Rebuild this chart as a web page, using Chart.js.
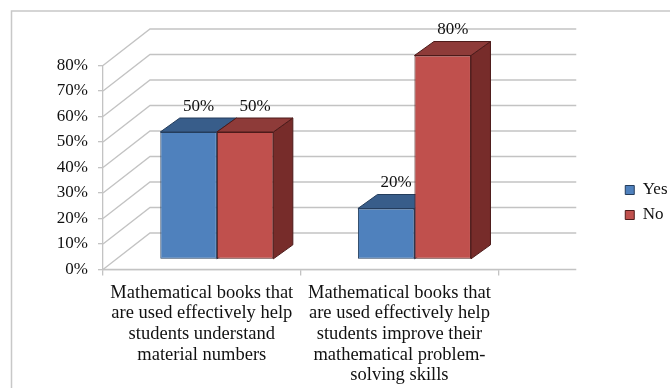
<!DOCTYPE html>
<html>
<head>
<meta charset="utf-8">
<script src="https://cdn.jsdelivr.net/npm/chart.js@4.4.1/dist/chart.umd.min.js"></script>
<style>
  html, body { margin: 0; padding: 0; background: #fff; }
  #grafica { display: block; }
</style>
</head>
<body>
<canvas id="grafica" width="670" height="388"></canvas>
<script>
// Datos de la encuesta
var categorias = [
    ["Mathematical books that", "are used effectively help", "students understand", "material numbers"],
    ["Mathematical books that", "are used effectively help", "students improve their", "mathematical problem-", "solving skills"]
];
var series = ["Yes", "No"];
var valoresSi = [50, 20];
var valoresNo = [50, 80];
var ticksY = [0, 10, 20, 30, 40, 50, 60, 70, 80];

// Efecto 3D: pared del fondo, plano de las barras y grosor de cada barra
var PARED = { dx: 47, dy: -36.5 };
var PLANO = { dx: 15, dy: -10 };
var GROSOR = { dx: 19.5, dy: -14 };
var GRIS = "#c3c3c3";
var FUENTE = "'Liberation Serif', 'Times New Roman', serif";

var colores = [
    { frente: "#4f81bd", arriba: "#385d8a", lado: "#2f4f76", borde: "#243d5c" },
    { frente: "#c0504d", arriba: "#8e3b39", lado: "#772c2a", borde: "#4d1b1a" }
];

function poligono(ctx, puntos, relleno, borde) {
    ctx.beginPath();
    ctx.moveTo(puntos[0][0], puntos[0][1]);
    for (var i = 1; i < puntos.length; i++) {
        ctx.lineTo(puntos[i][0], puntos[i][1]);
    }
    ctx.closePath();
    ctx.fillStyle = relleno;
    ctx.fill();
    ctx.lineWidth = 1;
    ctx.strokeStyle = borde;
    ctx.stroke();
}

var fondo3d = {
    id: "fondo3d",
    beforeDraw: function(chart) {
        var ctx = chart.ctx, area = chart.chartArea, escalaY = chart.scales.y;
        var fin = area.right + 78;
        ctx.save();
        ctx.fillStyle = "#fff";
        ctx.fillRect(0, 0, chart.width, chart.height);

        // marco exterior
        ctx.strokeStyle = "#c8c8c8";
        ctx.lineWidth = 1.5;
        ctx.strokeRect(11.5, 11, chart.width + 20, chart.height + 20);

        // lineas de la pared del fondo
        ctx.strokeStyle = GRIS;
        ctx.lineWidth = 1.3;
        ticksY.forEach(function(v) {
            var py = escalaY.getPixelForValue(v);
            ctx.beginPath();
            ctx.moveTo(area.left, py);
            ctx.lineTo(area.left + PARED.dx, py + PARED.dy);
            ctx.lineTo(fin, py + PARED.dy);
            ctx.stroke();
        });

        // borde delantero del suelo
        ctx.beginPath();
        ctx.moveTo(area.left, area.bottom);
        ctx.lineTo(fin, area.bottom);
        ctx.stroke();
        ctx.restore();
    },
    beforeDatasetsDraw: function(chart) {
        var ctx = chart.ctx;
        ctx.save();
        ctx.translate(PLANO.dx, PLANO.dy);

        // caras lateral y superior, antes de la cara frontal
        chart.data.datasets.forEach(function(ds, i) {
            var c = colores[i];
            chart.getDatasetMeta(i).data.forEach(function(barra) {
                var p = barra.getProps(["x", "y", "base", "width"], true);
                var izq = p.x - p.width / 2, der = p.x + p.width / 2;
                poligono(ctx, [[der, p.y], [der + GROSOR.dx, p.y + GROSOR.dy],
                    [der + GROSOR.dx, p.base + GROSOR.dy], [der, p.base]], c.lado, c.borde);
                poligono(ctx, [[izq, p.y], [izq + GROSOR.dx, p.y + GROSOR.dy],
                    [der + GROSOR.dx, p.y + GROSOR.dy], [der, p.y]], c.arriba, c.borde);
            });
        });
    },
    afterDatasetsDraw: function(chart) {
        chart.ctx.restore();
    },
    afterDraw: function(chart) {
        // etiquetas con el valor encima de cada barra
        var ctx = chart.ctx;
        ctx.save();
        ctx.font = "17px " + FUENTE;
        ctx.fillStyle = "#111";
        ctx.textAlign = "center";
        ctx.textBaseline = "middle";
        chart.data.datasets.forEach(function(ds, i) {
            chart.getDatasetMeta(i).data.forEach(function(barra, j) {
                var p = barra.getProps(["x", "y"], true);
                ctx.fillText(ds.data[j] + "%", p.x + PLANO.dx + 10, p.y + PLANO.dy - 25.5);
            });
        });
        ctx.restore();
    }
};

var datasets = [valoresSi, valoresNo].map(function(valores, i) {
    return {
        label: series[i],
        data: valores,
        backgroundColor: colores[i].frente,
        borderColor: colores[i].borde,
        borderWidth: 1,
        borderSkipped: false,
        categoryPercentage: 0.572,
        barPercentage: 1,
        clip: false
    };
});

new Chart(document.getElementById("grafica"), {
    type: "bar",
    data: { labels: categorias, datasets: datasets },
    options: {
        responsive: false,
        animation: false,
        layout: { padding: { top: 65.5, bottom: 0, left: 0, right: -7.5 } },
        plugins: {
            tooltip: { enabled: false },
            legend: {
                position: "right",
                align: "start",
                // titulo vacio: solo baja los elementos de la leyenda
                title: { display: true, text: " ", font: { size: 10, lineHeight: 1 }, padding: { top: 49, bottom: 49 } },
                labels: {
                    boxWidth: 9,
                    boxHeight: 9,
                    padding: 8,
                    color: "#111",
                    font: { family: FUENTE, size: 17 }
                }
            }
        },
        scales: {
            x: {
                grid: { drawOnChartArea: false, color: GRIS, lineWidth: 1.3, tickLength: 6, offset: true },
                border: { color: GRIS, width: 1.3 },
                ticks: {
                    color: "#111",
                    maxRotation: 0,
                    autoSkip: false,
                    padding: 7,
                    font: { family: FUENTE, size: 18.5, lineHeight: 1.115 }
                },
                afterFit: function(s) { s.height = 118.5; }
            },
            y: {
                min: 0,
                max: 80,
                grid: { drawOnChartArea: false, color: GRIS, lineWidth: 1.3, tickLength: 5 },
                border: { color: GRIS, width: 1.3 },
                ticks: {
                    color: "#111",
                    padding: 10,
                    font: { family: FUENTE, size: 17 },
                    callback: function(v) { return v + "%"; }
                },
                afterBuildTicks: function(s) {
                    s.ticks = ticksY.map(function(v) { return { value: v }; });
                },
                afterFit: function(s) { s.width = 103; }
            },
            // eje vacio que reserva el hueco entre el grafico y la leyenda
            hueco: {
                type: "linear",
                position: "right",
                grid: { display: false },
                border: { display: false },
                ticks: { display: false },
                afterFit: function(s) { s.width = 119; }
            }
        }
    },
    plugins: [fondo3d]
});
</script>
</body>
</html>
